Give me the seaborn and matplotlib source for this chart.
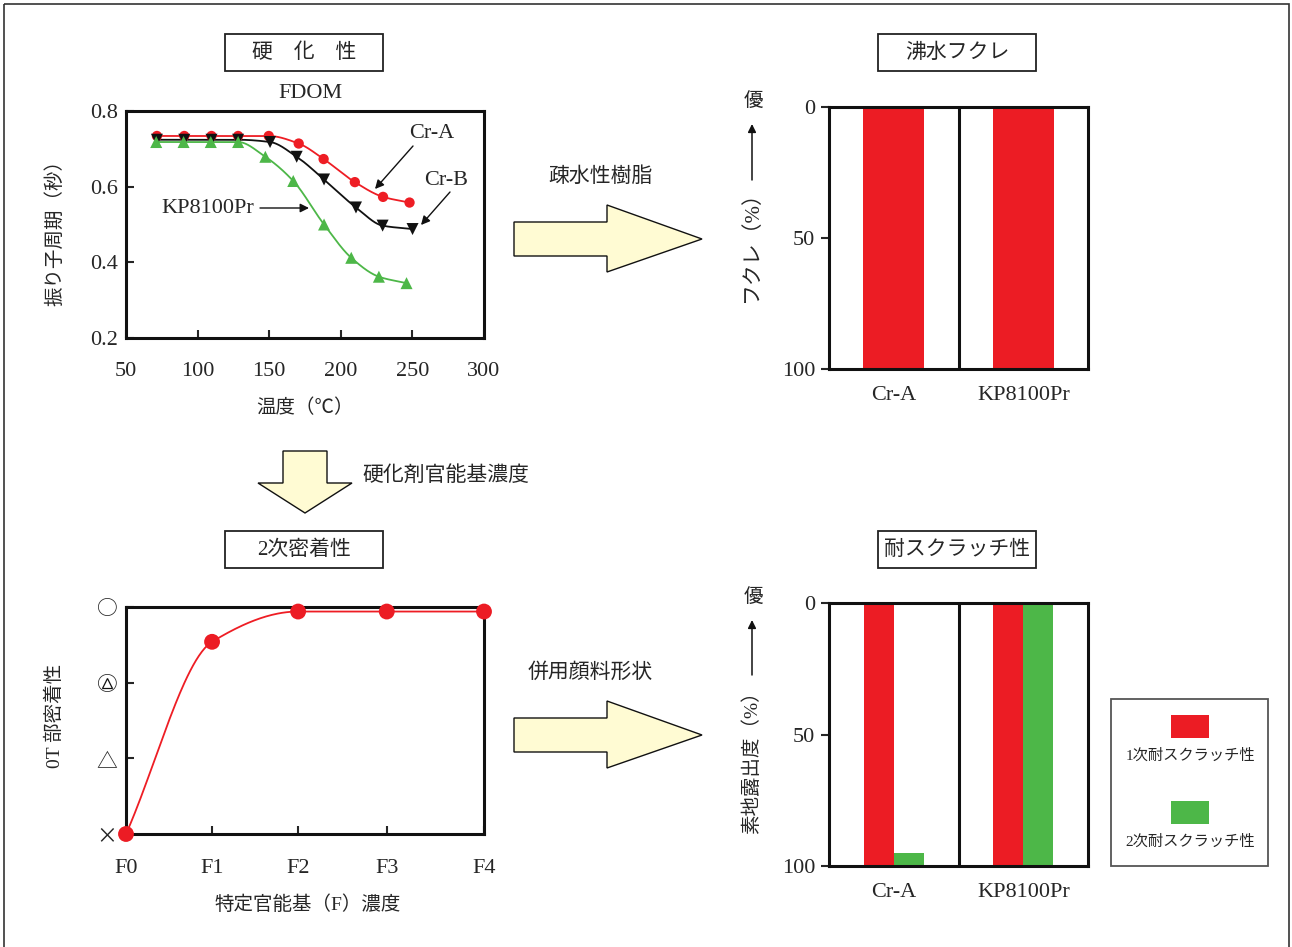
import numpy as np
import pandas as pd
import matplotlib
matplotlib.use('Agg')
import matplotlib.pyplot as plt
import seaborn as sns
from matplotlib.patches import Polygon, Rectangle
from matplotlib.transforms import blended_transform_factory

# ---------------- data ----------------
# 硬化性 (FDOM): pendulum period vs temperature
temp_cra = [71.6, 90.7, 109.7, 128.3, 149.7, 170.6, 188.0, 209.8, 229.5, 248.0]
period_cra = [0.734, 0.734, 0.734, 0.734, 0.734, 0.714, 0.673, 0.612, 0.573, 0.558]
temp_crb = [71.6, 90.7, 109.7, 128.3, 150.6, 169.2, 188.3, 210.6, 229.2, 250.1]
period_crb = [0.724, 0.724, 0.724, 0.724, 0.718, 0.679, 0.619, 0.545, 0.497, 0.488]
temp_kp = [71.1, 90.2, 109.2, 128.3, 147.3, 166.8, 188.3, 207.3, 226.6, 245.9]
period_kp = [0.718, 0.718, 0.718, 0.718, 0.679, 0.615, 0.500, 0.412, 0.362, 0.345]
x_ticks_temp = [50, 100, 150, 200, 250, 300]
y_ticks_period = [0.2, 0.4, 0.6, 0.8]

# 2次密着性: adhesion grade vs functional group concentration
f_labels = ['F0', 'F1', 'F2', 'F3', 'F4']
f_pos = [0.0, 1.0, 2.0, 3.03, 4.16]
adhesion = [0.0, 2.54, 2.94, 2.94, 2.94]
grade_labels = ['×', '△', '○', '○']

# 沸水フクレ (%): 0 is best
blister_samples = ['Cr-A', 'KP8100Pr']
blister_pct = [0, 0]

# 耐スクラッチ性: 素地露出度 (%)
scratch_samples = ['Cr-A', 'Cr-A', 'KP8100Pr', 'KP8100Pr']
scratch_types = ['1次耐スクラッチ性', '2次耐スクラッチ性', '1次耐スクラッチ性', '2次耐スクラッチ性']
exposure_pct = [0, 95, 0, 0]
pct_ticks = [0, 50, 100]

# ---------------- style ----------------
sns.set_theme(style='white')
plt.rcParams['font.family'] = ['Liberation Serif', 'Noto Sans CJK JP', 'DejaVu Sans']
plt.rcParams['axes.unicode_minus'] = False

RED = '#ec1c24'
GREEN = '#4db748'
BLACK = '#111111'
ARROW_FILL = '#fffbd3'

W, H = 1292, 947
fig = plt.figure(figsize=(W / 100, H / 100), dpi=100)
fig.patch.set_facecolor('white')


def ax_rect(l, t, r, b):
    return [l / W, 1 - b / H, (r - l) / W, (b - t) / H]


def smooth(x, y, n=60):
    """monotone cubic Hermite curve through the data points (for drawing the line)."""
    x = np.asarray(x, float)
    y = np.asarray(y, float)
    h = np.diff(x)
    d = np.diff(y) / h
    m = np.zeros_like(y)
    m[0], m[-1] = d[0], d[-1]
    for k in range(1, len(x) - 1):
        if d[k - 1] * d[k] > 0:
            w1 = 2 * h[k] + h[k - 1]
            w2 = h[k] + 2 * h[k - 1]
            m[k] = (w1 + w2) / (w1 / d[k - 1] + w2 / d[k])
    xs, ys = [], []
    for k in range(len(x) - 1):
        t = np.linspace(0, 1, n)
        h00 = 2 * t**3 - 3 * t**2 + 1
        h10 = t**3 - 2 * t**2 + t
        h01 = -2 * t**3 + 3 * t**2
        h11 = t**3 - t**2
        xs.append(x[k] + t * h[k])
        ys.append(h00 * y[k] + h10 * h[k] * m[k] + h01 * y[k + 1] + h11 * h[k] * m[k + 1])
    return np.concatenate(xs), np.concatenate(ys)


def style_spines(ax, lw=2.2):
    for s in ax.spines.values():
        s.set_visible(True)
        s.set_linewidth(lw)
        s.set_color(BLACK)


# ---------------- top-left: 硬化性 ----------------
ax1 = fig.add_axes(ax_rect(126, 111, 484, 338), zorder=2)
series = [
    ('Cr-A', temp_cra, period_cra, '#ee1d24', 'o', 55),
    ('Cr-B', temp_crb, period_crb, BLACK, 'v', 75),
    ('KP8100Pr', temp_kp, period_kp, GREEN, '^', 75),
]
for name, xs, ys, col, mk, sz in series:
    sx, sy = smooth(xs, ys)
    ax1.plot(sx, sy, color=col, lw=1.3, zorder=2)
    df = pd.DataFrame({'temp': xs, 'period': ys})
    sns.scatterplot(data=df, x='temp', y='period', color=col, marker=mk, s=sz,
                    edgecolor='none', ax=ax1, zorder=3, legend=False)
ax1.set_xlim(50, 300)
ax1.set_ylim(0.2, 0.8)
ax1.set_xticks(x_ticks_temp)
ax1.set_xticklabels([str(v) for v in x_ticks_temp])
ax1.set_yticks(y_ticks_period)
ax1.set_yticklabels([f'{v:.1f}' for v in y_ticks_period])
ax1.set_xlabel('')
ax1.set_ylabel('')
style_spines(ax1)
ax1.tick_params(axis='x', direction='in', length=6, width=1.5, pad=17, labelsize=16, bottom=True)
ax1.tick_params(axis='y', direction='in', length=6, width=1.5, pad=6, labelsize=16, left=True)

# ---------------- bottom-left: 2次密着性 ----------------
ax2 = fig.add_axes(ax_rect(126, 607, 484, 834), zorder=2)
sx, sy = smooth(f_pos, adhesion)
ax2.plot(sx, sy, color='#ee1d24', lw=1.3, zorder=2)
df2 = pd.DataFrame({'f': f_pos, 'grade': adhesion})
sns.scatterplot(data=df2, x='f', y='grade', color=RED, s=130, edgecolor='none',
                ax=ax2, zorder=3, legend=False, clip_on=False)
ax2.set_xlim(0, f_pos[-1])
ax2.set_ylim(0, 3)
ax2.set_xticks(f_pos)
ax2.set_xticklabels(f_labels)
ax2.set_yticks([0, 1, 2, 3])
ax2.set_yticklabels(grade_labels, family=['Noto Sans CJK JP', 'DejaVu Sans'], fontsize=15)
ax2.set_xlabel('')
ax2.set_ylabel('')
style_spines(ax2)
ax2.tick_params(axis='x', direction='in', length=6, width=1.5, pad=18, labelsize=16, bottom=True)
ax2.tick_params(axis='y', direction='in', length=6, width=1.5, pad=6, left=True)
# grade 2 symbol: small triangle inside the circle label
tr = blended_transform_factory(ax2.transAxes, ax2.transData)
ax2.plot([-0.052], [2], marker='^', markersize=7, markerfacecolor='none',
         markeredgecolor=BLACK, markeredgewidth=0.9, transform=tr, clip_on=False)

# ---------------- top-right: 沸水フクレ ----------------
ax3 = fig.add_axes(ax_rect(829, 107, 1088, 369), zorder=2)
df3 = pd.DataFrame({'sample': blister_samples, 'score': [100 - v for v in blister_pct]})
sns.barplot(data=df3, x='sample', y='score', color=RED, width=0.47, errorbar=None,
            linewidth=0, saturation=1, ax=ax3)
ax3.set_xlim(-0.5, 1.5)
ax3.set_ylim(0, 100)
ax3.axvline(0.5, color=BLACK, lw=2.2)
ax3.set_yticks([100 - v for v in pct_ticks])
ax3.set_yticklabels([str(v) for v in pct_ticks])
ax3.set_xlabel('')
ax3.set_ylabel('')
style_spines(ax3)
ax3.tick_params(axis='y', direction='out', length=6, width=1.5, pad=4, labelsize=16, left=True)
ax3.tick_params(axis='x', length=0, pad=12, labelsize=16)

# ---------------- bottom-right: 耐スクラッチ性 ----------------
ax4 = fig.add_axes(ax_rect(829, 603, 1088, 866), zorder=2)
df4 = pd.DataFrame({'sample': scratch_samples, 'type': scratch_types,
                    'score': [100 - v for v in exposure_pct]})
sns.barplot(data=df4, x='sample', y='score', hue='type',
            palette={'1次耐スクラッチ性': RED, '2次耐スクラッチ性': GREEN},
            width=0.46, errorbar=None, linewidth=0, saturation=1, legend=False, ax=ax4)
ax4.set_xlim(-0.5, 1.5)
ax4.set_ylim(0, 100)
ax4.axvline(0.5, color=BLACK, lw=2.2)
ax4.set_yticks([100 - v for v in pct_ticks])
ax4.set_yticklabels([str(v) for v in pct_ticks])
ax4.set_xlabel('')
ax4.set_ylabel('')
style_spines(ax4)
ax4.tick_params(axis='y', direction='out', length=6, width=1.5, pad=4, labelsize=16, left=True)
ax4.tick_params(axis='x', length=0, pad=12, labelsize=16)

# ---------------- overlay: boxes, arrows, labels ----------------
ov = fig.add_axes([0, 0, 1, 1], zorder=5)
ov.set_xlim(0, W)
ov.set_ylim(H, 0)
ov.axis('off')
ov.patch.set_alpha(0)

# outer frame
ov.add_patch(Rectangle((4, 4), 1285, 960, fill=False, edgecolor='#333333', lw=1.2, clip_on=False))

# title boxes
for (x0, y0, label) in [(225, 34, '硬　化　性'), (878, 34, '沸水フクレ'),
                        (225, 531, '2次密着性'), (878, 531, '耐スクラッチ性')]:
    ov.add_patch(Rectangle((x0, y0), 158, 37, fill=False, edgecolor='#222222', lw=1.3))
    ov.text(x0 + 79, y0 + 19, label, ha='center', va='center', fontsize=15)

ov.text(310, 93, 'FDOM', ha='center', va='center', fontsize=16)

# axis labels (left charts)
ov.text(55, 228, '振り子周期（秒）', rotation=90, ha='center', va='center', fontsize=14)
ov.text(305, 408, '温度（℃）', ha='center', va='center', fontsize=14)
ov.text(55, 716, '0T 部密着性', rotation=90, ha='center', va='center', fontsize=14)
ov.text(308, 905, '特定官能基（F）濃度', ha='center', va='center', fontsize=14)

# series annotations
arrow_kw = dict(arrowstyle='-|>', color=BLACK, lw=1.0, mutation_scale=13, shrinkA=0, shrinkB=0)
ov.text(432, 133, 'Cr-A', ha='center', va='center', fontsize=16)
ov.annotate('', xy=(375, 189), xytext=(413, 146), arrowprops=arrow_kw)
ov.text(446, 180, 'Cr-B', ha='center', va='center', fontsize=16)
ov.annotate('', xy=(421, 225), xytext=(450, 192), arrowprops=arrow_kw)
ov.text(208, 208, 'KP8100Pr', ha='center', va='center', fontsize=16)
ov.annotate('', xy=(309, 208), xytext=(260, 208), arrowprops=arrow_kw)

# block arrows
for dy in (0, 496):
    pts = [(514, 222 + dy), (607, 222 + dy), (607, 205 + dy), (702, 239 + dy),
           (607, 272 + dy), (607, 256 + dy), (514, 256 + dy)]
    ov.add_patch(Polygon(pts, closed=True, facecolor=ARROW_FILL, edgecolor=BLACK, lw=1.0))
ov.add_patch(Polygon([(283, 451), (327, 451), (327, 483), (352, 483), (305, 513),
                      (258, 483), (283, 483)], closed=True,
                     facecolor=ARROW_FILL, edgecolor=BLACK, lw=1.0))
ov.text(601, 177, '疎水性樹脂', ha='center', va='center', fontsize=15)
ov.text(590, 673, '併用顔料形状', ha='center', va='center', fontsize=15)
ov.text(446, 476, '硬化剤官能基濃度', ha='center', va='center', fontsize=15)

# right chart y labels with "優" arrow
up_kw = dict(arrowstyle='-|>', color=BLACK, lw=1.1, mutation_scale=12, shrinkA=0, shrinkB=0)
ov.text(753, 101, '優', ha='center', va='center', fontsize=14)
ov.annotate('', xy=(752, 124), xytext=(752, 180), arrowprops=up_kw)
ov.text(752, 241, 'フクレ（%）', rotation=90, ha='center', va='center', fontsize=15)
ov.text(753, 597, '優', ha='center', va='center', fontsize=14)
ov.annotate('', xy=(752, 620), xytext=(752, 675), arrowprops=up_kw)
ov.text(752, 758, '素地露出度（%）', rotation=90, ha='center', va='center', fontsize=14)

# legend for scratch chart
ov.add_patch(Rectangle((1111, 699), 157, 167, fill=False, edgecolor='#555555', lw=1.3))
ov.add_patch(Rectangle((1171, 715), 38, 23, facecolor=RED, edgecolor='none'))
ov.text(1190, 756, '1次耐スクラッチ性', ha='center', va='center', fontsize=11)
ov.add_patch(Rectangle((1171, 801), 38, 23, facecolor=GREEN, edgecolor='none'))
ov.text(1190, 842, '2次耐スクラッチ性', ha='center', va='center', fontsize=11)

fig.savefig('out.png', dpi=100, facecolor='white')
